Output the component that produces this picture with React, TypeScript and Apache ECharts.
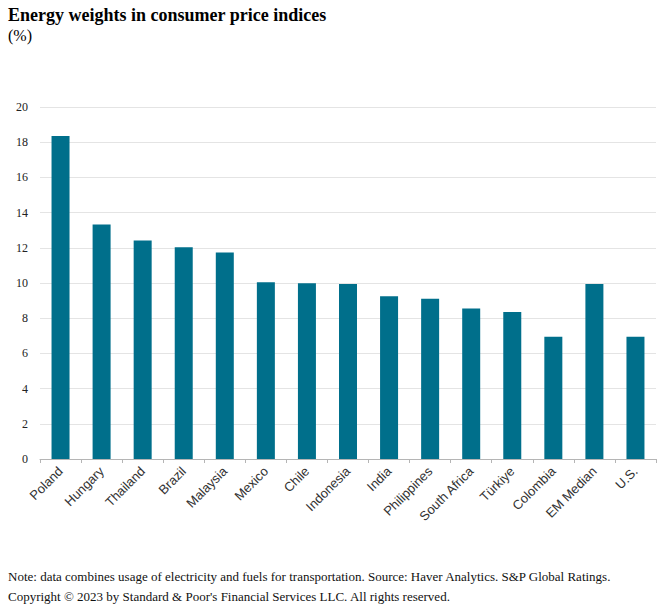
import React, { useEffect, useRef } from "react";
import * as echarts from "echarts";

const categories = ["Poland", "Hungary", "Thailand", "Brazil", "Malaysia", "Mexico", "Chile", "Indonesia", "India", "Philippines", "South Africa", "Türkiye", "Colombia", "EM Median", "U.S."];
const values = [18.35, 13.33, 12.42, 12.03, 11.74, 10.04, 9.98, 9.95, 9.25, 9.1, 8.55, 8.35, 6.95, 9.95, 6.95];
const yTicks = { min: 0, max: 20, interval: 2 };
const titleText = "Energy weights in consumer price indices";
const unitText = "(%)";
const noteText = "Note: data combines usage of electricity and fuels for transportation. Source: Haver Analytics. S&P Global Ratings.";
const copyrightText = "Copyright © 2023 by Standard & Poor's Financial Services LLC. All rights reserved.";

export default function App() {
  const ref = useRef<HTMLDivElement>(null);
  useEffect(() => {
    if (!ref.current) return;
    const chart = echarts.init(ref.current, null, { renderer: "svg" });
    chart.setOption({
      animation: false,
      backgroundColor: "#ffffff",
      graphic: [
        { type: "text", left: 8, top: 6, style: { text: titleText, font: "bold 18px 'Liberation Serif'", fill: "#000" } },
        { type: "text", left: 8, top: 27, style: { text: unitText, font: "16px 'Liberation Serif'", fill: "#000" } },
        { type: "text", left: 8, top: 570, style: { text: noteText, font: "13px 'Liberation Serif'", fill: "#111" } },
        { type: "text", left: 8, top: 590, style: { text: copyrightText, font: "13px 'Liberation Serif'", fill: "#111" } },
      ],
      grid: { left: 40, right: 4, top: 107, bottom: 154 },
      xAxis: {
        type: "category",
        data: categories,
        axisLine: { lineStyle: { color: "#b5b5b5", width: 1 } },
        axisTick: { show: true, alignWithLabel: false, length: 4, lineStyle: { color: "#b5b5b5" } },
        axisLabel: { rotate: 45, interval: 0, fontFamily: "'Liberation Sans', Arial", fontSize: 13, color: "#333", margin: 10 },
      },
      yAxis: {
        type: "value",
        min: yTicks.min,
        max: yTicks.max,
        interval: yTicks.interval,
        axisLine: { show: false },
        axisTick: { show: false },
        splitLine: { lineStyle: { color: "#e4e4e4", width: 1 } },
        axisLabel: { fontFamily: "'Liberation Serif'", fontSize: 12, color: "#222", margin: 12 },
      },
      series: [
        {
          type: "bar",
          data: values,
          barWidth: 18,
          itemStyle: { color: "#006f8b" },
        },
      ],
    });
    return () => chart.dispose();
  }, []);
  return <div ref={ref} style={{ width: 660, height: 613, position: "absolute", left: 0, top: 0 }} />;
}
